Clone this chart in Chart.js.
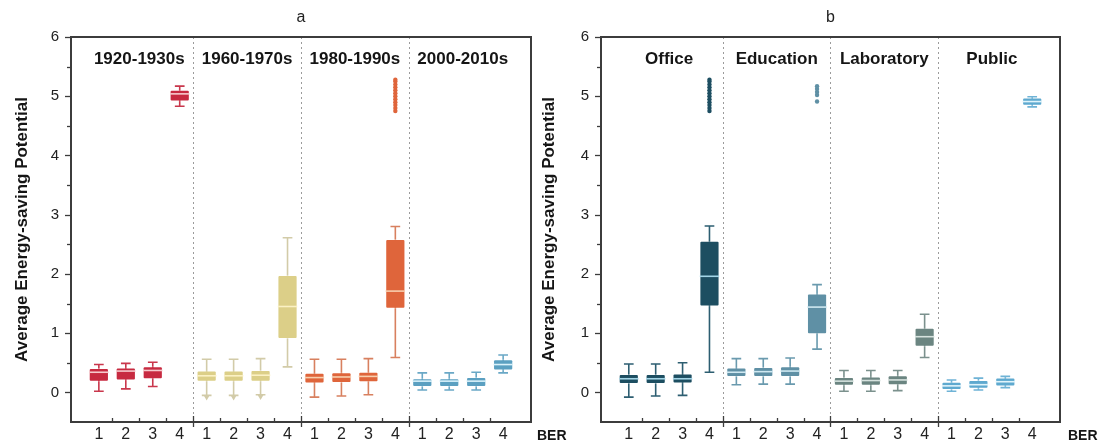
<!DOCTYPE html>
<html>
<head>
<meta charset="utf-8">
<script src="https://cdn.jsdelivr.net/npm/chart.js@4.4.1/dist/chart.umd.min.js"></script>
<style>
  body { margin: 0; background: #fff; }
  #wrap { position: relative; width: 1101px; height: 443px; overflow: hidden; }
  #wrap canvas { position: absolute; top: 0; }
</style>
</head>
<body>
<div id="wrap">
  <canvas id="chartA" width="580" height="443" style="left:0"></canvas>
  <canvas id="chartB" width="581" height="443" style="left:520px"></canvas>
</div>
<script>
const berLabels = ['1', '2', '3', '4'];
const yTickLabels = [0, 1, 2, 3, 4, 5, 6];

// panel a - construction period
const aGroups = ['1920-1930s', '1960-1970s', '1980-1990s', '2000-2010s'];
const aLow    = [0.02, 0.06, 0.10, 4.83, -0.05, -0.05, -0.04, 0.43, -0.08, -0.06, -0.04, 0.59, 0.04, 0.04, 0.04, 0.33];
const aQ1     = [0.18, 0.20, 0.22, 4.91,  0.18,  0.18,  0.18, 0.90,  0.15,  0.16,  0.17, 1.41, 0.09, 0.09, 0.09, 0.37];
const aMedian = [0.34, 0.36, 0.37, 5.04,  0.28,  0.28,  0.29, 1.45,  0.25,  0.26,  0.27, 1.71, 0.19, 0.19, 0.19, 0.47];
const aQ3     = [0.41, 0.42, 0.44, 5.11,  0.37,  0.37,  0.38, 1.98,  0.33,  0.34,  0.35, 2.59, 0.24, 0.24, 0.26, 0.56];
const aHigh   = [0.47, 0.49, 0.51, 5.17,  0.56,  0.56,  0.57, 2.61,  0.56,  0.56,  0.57, 2.80, 0.33, 0.33, 0.34, 0.63];
const aOutliers = [[11, [4.75, 4.80, 4.85, 4.90, 4.95, 5.00, 5.05, 5.10, 5.15, 5.20, 5.25, 5.28]]];
const aLowMarks = [[4, -0.08], [5, -0.08], [6, -0.07]];

// panel b - building type
const bGroups = ['Office', 'Education', 'Laboratory', 'Public'];
const bLow    = [-0.08, -0.06, -0.05, 0.34, 0.13, 0.14, 0.14, 0.73, 0.02, 0.02, 0.03, 0.59, 0.02, 0.04, 0.08, 4.82];
const bQ1     = [ 0.14,  0.14,  0.15, 1.45, 0.26, 0.26, 0.26, 0.98, 0.11, 0.11, 0.12, 0.77, 0.04, 0.06, 0.10, 4.84];
const bMedian = [ 0.23,  0.23,  0.23, 1.96, 0.34, 0.35, 0.36, 1.44, 0.19, 0.20, 0.21, 0.94, 0.11, 0.13, 0.18, 4.91];
const bQ3     = [ 0.31,  0.31,  0.32, 2.56, 0.42, 0.43, 0.44, 1.67, 0.26, 0.27, 0.29, 1.09, 0.18, 0.21, 0.25, 4.98];
const bHigh   = [ 0.48,  0.48,  0.50, 2.81, 0.57, 0.57, 0.58, 1.82, 0.37, 0.37, 0.37, 1.32, 0.21, 0.24, 0.27, 4.99];
const bOutliers = [
  [3, [4.75, 4.80, 4.85, 4.90, 4.95, 5.00, 5.05, 5.10, 5.15, 5.20, 5.25, 5.28]],
  [7, [4.91, 5.02, 5.07, 5.12, 5.17]]
];
const bLowMarks = [];

const FONT = "'Liberation Sans', Arial, sans-serif";

const boxParts = {
  id: 'boxParts',
  beforeDatasetsDraw(chart) {
    const p = chart.options.plugins.boxParts;
    const {ctx, chartArea: ca, scales: {x, y}} = chart;
    const step = x.getPixelForValue(1) - x.getPixelForValue(0);
    ctx.save();
    // dotted group dividers
    ctx.strokeStyle = '#9b9b9b';
    ctx.lineWidth = 1;
    ctx.setLineDash([2, 3]);
    for (let g = 1; g < p.groups.length; g++) {
      const px = Math.round(x.getPixelForValue(g * 4 - 0.5)) + 0.5;
      ctx.beginPath(); ctx.moveTo(px, ca.top); ctx.lineTo(px, ca.bottom); ctx.stroke();
    }
    ctx.setLineDash([]);
    // whiskers and caps
    const capHalf = step * 0.18;
    p.low.forEach((lo, i) => {
      const cx = x.getPixelForValue(i);
      const y0 = y.getPixelForValue(lo), y1 = y.getPixelForValue(p.high[i]);
      ctx.strokeStyle = p.whisker[Math.floor(i / 4)];
      ctx.lineWidth = 1.6;
      ctx.beginPath();
      ctx.moveTo(cx, y0); ctx.lineTo(cx, y1);
      ctx.moveTo(cx - capHalf, y0); ctx.lineTo(cx + capHalf, y0);
      ctx.moveTo(cx - capHalf, y1); ctx.lineTo(cx + capHalf, y1);
      ctx.stroke();
    });
    ctx.restore();
  },
  afterDatasetsDraw(chart) {
    const p = chart.options.plugins.boxParts;
    const {ctx, chartArea: ca, scales: {x, y}} = chart;
    const step = x.getPixelForValue(1) - x.getPixelForValue(0);
    ctx.save();
    // medians
    const half = step * 0.36;
    p.median.forEach((m, i) => {
      const cx = x.getPixelForValue(i), py = y.getPixelForValue(m);
      ctx.strokeStyle = p.medianColor[Math.floor(i / 4)];
      ctx.lineWidth = 1.6;
      ctx.beginPath(); ctx.moveTo(cx - half, py); ctx.lineTo(cx + half, py); ctx.stroke();
    });
    // frame
    ctx.strokeStyle = '#3c3c3c';
    ctx.lineWidth = 2;
    ctx.strokeRect(ca.left, ca.top, ca.right - ca.left, ca.bottom - ca.top);
    // y ticks, outward
    ctx.lineWidth = 1.3;
    for (let v = 0; v <= 6; v += 0.5) {
      const py = Math.round(y.getPixelForValue(v)) + 0.5;
      const len = Number.isInteger(v) ? 6 : 4;
      ctx.beginPath(); ctx.moveTo(ca.left - len, py); ctx.lineTo(ca.left, py); ctx.stroke();
    }
    // x ticks: short inward between boxes, longer at dividers
    for (let k = 0; k < 15; k++) {
      const px = Math.round(x.getPixelForValue(k + 0.5)) + 0.5;
      ctx.beginPath();
      if ((k + 1) % 4 === 0) { ctx.moveTo(px, ca.bottom - 6); ctx.lineTo(px, ca.bottom + 5); }
      else { ctx.moveTo(px, ca.bottom - 4); ctx.lineTo(px, ca.bottom); }
      ctx.stroke();
    }
    // group names
    ctx.fillStyle = '#151515';
    ctx.font = 'bold 17px ' + FONT;
    ctx.textAlign = 'center';
    ctx.textBaseline = 'middle';
    p.groups.forEach((g, i) => {
      ctx.fillText(g, x.getPixelForValue(i * 4 + 1.5), 59);
    });
    // panel letter
    ctx.font = '16px ' + FONT;
    ctx.fillStyle = '#222';
    ctx.fillText(p.letter, (ca.left + ca.right) / 2, 18);
    // BER axis name
    ctx.font = 'bold 14px ' + FONT;
    ctx.textAlign = 'left';
    ctx.fillStyle = '#151515';
    ctx.fillText('BER', ca.right + p.berGap, 436);
    ctx.restore();
  }
};

function makePanel(id, d) {
  const outlierPts = [];
  d.outliers.forEach(([i, vals]) => vals.forEach(v => outlierPts.push({x: i, y: v})));
  const boxColors = d.q1.map((q, i) => d.box[Math.floor(i / 4)]);
  const datasets = [
    {
      type: 'bar',
      data: d.q1.map((q, i) => ({x: i, y: [q, d.q3[i]]})),
      backgroundColor: boxColors,
      borderColor: 'rgba(255,255,255,0.35)',
      borderWidth: 1,
      borderSkipped: false,
      borderRadius: 2,
      barPercentage: 0.75,
      categoryPercentage: 1
    },
    {
      type: 'line',
      data: outlierPts,
      showLine: false,
      pointRadius: 2.2,
      pointBorderWidth: 0,
      pointBackgroundColor: outlierPts.map(pt => d.box[Math.floor(pt.x / 4)])
    },
    {
      type: 'line',
      data: d.lowMarks.map(([i, v]) => ({x: i, y: v})),
      showLine: false,
      pointStyle: 'triangle',
      rotation: 180,
      pointRadius: 3.5,
      pointBorderWidth: 0,
      pointBackgroundColor: d.lowMarks.map(([i]) => d.whisker[Math.floor(i / 4)])
    }
  ];

  new Chart(document.getElementById(id), {
    type: 'bar',
    data: {datasets},
    plugins: [boxParts],
    options: {
      responsive: false,
      animation: false,
      devicePixelRatio: 1,
      layout: {padding: {left: 0, right: d.padRight, top: 37, bottom: 0}},
      plugins: {
        legend: {display: false},
        tooltip: {enabled: false},
        boxParts: {
          groups: d.groups, low: d.low, high: d.high, median: d.median,
          whisker: d.whisker, medianColor: d.medianColor, letter: d.letter, berGap: d.berGap
        }
      },
      scales: {
        x: {
          type: 'linear',
          min: -0.5,
          max: 15.5,
          grid: {display: false, drawTicks: false},
          border: {display: false},
          afterBuildTicks: axis => {
            axis.ticks = d.q1.map((q, i) => ({value: i}));
          },
          ticks: {
            autoSkip: false,
            maxRotation: 0,
            padding: 3,
            color: '#222',
            font: {family: FONT, size: 16},
            callback: v => berLabels[v % 4]
          },
          afterFit: axis => { axis.height = 20; }
        },
        y: {
          min: -0.5,
          max: 6,
          grid: {display: false, drawTicks: false},
          border: {display: false},
          ticks: {
            stepSize: 0.5,
            padding: 12,
            color: '#222',
            font: {family: FONT, size: 15},
            callback: v => yTickLabels.includes(v) ? String(v) : ''
          },
          title: {
            display: true,
            text: 'Average Energy-saving Potential',
            color: '#151515',
            font: {family: FONT, size: 17, weight: 'bold'},
            padding: {top: d.titlePad, bottom: 0}
          },
          afterFit: axis => { axis.width = d.axisWidth; }
        }
      }
    }
  });
}

makePanel('chartA', {
  groups: aGroups, low: aLow, q1: aQ1, median: aMedian, q3: aQ3, high: aHigh,
  outliers: aOutliers, lowMarks: aLowMarks, letter: 'a',
  box: ['#c72a40', '#dccf88', '#df653b', '#5ba0c1'],
  whisker: ['#c9374c', '#d2cba8', '#d8805f', '#6aa8c6'],
  medianColor: ['#f6c9cc', '#fbf1c4', '#f8cfae', '#d9f1fa'],
  padRight: 49, axisWidth: 71, titlePad: 12, berGap: 6
});

makePanel('chartB', {
  groups: bGroups, low: bLow, q1: bQ1, median: bMedian, q3: bQ3, high: bHigh,
  outliers: bOutliers, lowMarks: bLowMarks, letter: 'b',
  box: ['#1d4e61', '#5f90a5', '#6b8581', '#5ea9cf'],
  whisker: ['#2d5e71', '#6a9aae', '#7b918d', '#6fb3d6'],
  medianColor: ['#a3d5e7', '#cfe8f1', '#d6e2de', '#e0f4fb'],
  padRight: 41, axisWidth: 81, titlePad: 19, berGap: 8
});
</script>
</body>
</html>
